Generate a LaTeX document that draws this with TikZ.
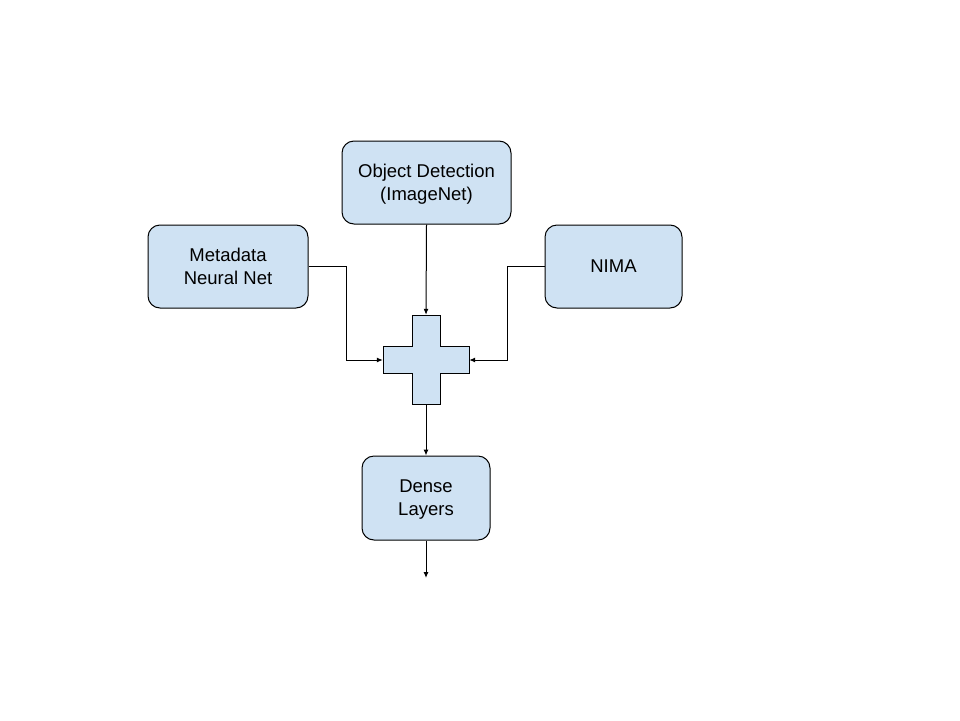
\documentclass[tikz,border=0pt]{standalone}
\usepackage{fontspec}
\setmainfont{Liberation Sans}
\usetikzlibrary{arrows.meta}
\definecolor{boxfill}{HTML}{CFE2F3}
\tikzset{
  blk/.style={draw=black, fill=boxfill, line width=1pt, rounded corners=12pt,
    align=center, inner sep=0pt, text depth=-4pt, font=\fontsize{18.5}{23}\selectfont},
  conn/.style={line width=1pt, -{Latex[length=6pt,width=5pt]}},
}
\begin{document}
\begin{tikzpicture}[x=1pt,y=-1pt]
\useasboundingbox (0,0) rectangle (960,720);
\node[blk, minimum width=169pt, minimum height=83pt] (od) at (426.5,182.5) {Object Detection\\(ImageNet)};
\node[blk, minimum width=160pt, minimum height=83pt] (md) at (228,266.5) {Metadata\\Neural Net};
\node[blk, minimum width=137pt, minimum height=83pt] (nima) at (613.5,266.5) {NIMA};
\node[blk, minimum width=128pt, minimum height=84pt] (dense) at (426,498) {Dense\\Layers};
% plus shape
\node[minimum width=86pt, minimum height=89pt, inner sep=0pt] (plus) at (426,359.5) {};
\draw[line width=1pt, fill=boxfill]
  (412,315) -- (440,315) -- (440,346) -- (469,346) -- (469,373) -- (440,373) -- (440,404)
  -- (412,404) -- (412,373) -- (383,373) -- (383,346) -- (412,346) -- cycle;
\coordinate (out) at (426,578);
\draw[conn] (od.south) -- (plus.north);
\draw[conn] (md.east |- 0,266.5) -- (346,266.5) -- (346,360) -- (plus.west |- 0,360);
\draw[conn] (nima.west |- 0,266.5) -- (507,266.5) -- (507,360) -- (plus.east |- 0,360);
\draw[conn] (plus.south) -- (dense.north);
\draw[conn] (dense.south) -- (out);
\end{tikzpicture}
\end{document}
